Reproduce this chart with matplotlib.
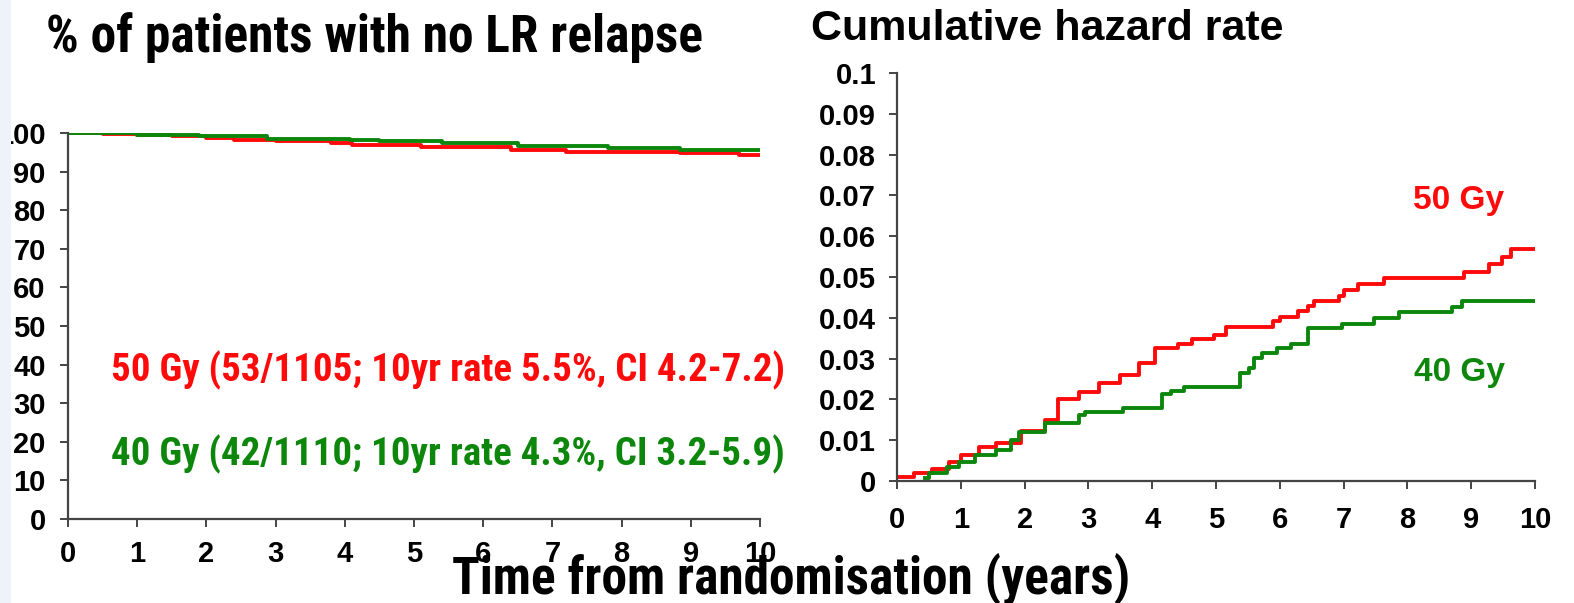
import matplotlib
matplotlib.use("Agg")
import matplotlib.pyplot as plt
from matplotlib.patches import Rectangle

W, H = 1574, 603

# % free of local-regional relapse (Kaplan-Meier, step points)
km_t_50 = [0, 0.5, 1.0, 1.5, 2.0, 2.4, 3.0, 3.8, 4.1, 5.1, 6.4, 7.2, 8.85, 9.7, 10]
km_s_50 = [100, 99.8, 99.5, 99.2, 98.8, 98.1, 97.8, 97.4, 96.9, 96.3, 95.6, 95.1, 94.7, 94.4, 94.4]
km_t_40 = [0, 1.0, 1.9, 2.87, 4.07, 4.5, 5.4, 6.5, 7.8, 8.85, 10]
km_s_40 = [100, 99.6, 99.1, 98.4, 98.2, 97.9, 97.3, 96.6, 96.0, 95.7, 95.7]

# cumulative hazard, 50 Gy arm
hz_t_50 = [0, 0.26, 0.55, 0.81, 1.01, 1.28, 1.55, 1.95, 2.32, 2.52, 2.86, 3.16, 3.5, 3.8,
           4.05, 4.4, 4.62, 4.97, 5.16, 5.9, 6.0, 6.28, 6.44, 6.53, 6.93, 7.0, 7.22, 7.63,
           8.88, 9.28, 9.49, 9.62, 10]
hz_v_50 = [0.001, 0.002, 0.003, 0.0047, 0.0064, 0.0083, 0.0094, 0.0123, 0.015, 0.020, 0.0219,
           0.024, 0.026, 0.029, 0.0325, 0.0336, 0.0348, 0.0358, 0.0378, 0.0392, 0.0403, 0.0417,
           0.0429, 0.0442, 0.0453, 0.0468, 0.0483, 0.0497, 0.0513, 0.0531, 0.0548, 0.0568, 0.0568]

# cumulative hazard, 40 Gy arm
hz_t_40 = [0.44, 0.5, 0.78, 0.97, 1.22, 1.55, 1.78, 1.92, 2.32, 2.85, 2.95, 3.55, 3.76, 4.15,
           4.3, 4.5, 5.37, 5.52, 5.6, 5.72, 5.95, 6.18, 6.44, 6.98, 7.47, 7.87, 8.7, 8.86, 10]
hz_v_40 = [0.0007, 0.0019, 0.0035, 0.0047, 0.0064, 0.0076, 0.010, 0.0121, 0.0141, 0.0162,
           0.017, 0.0178, 0.018, 0.0213, 0.022, 0.0231, 0.0264, 0.0276, 0.0301, 0.0313, 0.0325,
           0.0336, 0.0374, 0.0385, 0.0399, 0.0415, 0.0427, 0.0442, 0.0442]

years = list(range(0, 11))
km_ticks = list(range(0, 101, 10))
hz_ticks = [i / 100 for i in range(0, 11)]
hz_labels = ["0"] + ["0.%02d" % i for i in range(1, 10)] + ["0.1"]

RED = "#ff0a0a"
GREEN = "#0c870c"
SPINE = "#444444"
NARROW = ["Roboto Condensed", "PT Sans Narrow", "Liberation Sans", "DejaVu Sans"]
WIDE = ["Liberation Sans", "DejaVu Sans"]

fig = plt.figure(figsize=(W / 100, H / 100), dpi=100)


def box(x0, y0, x1, y1):
    # pixel box (top-left origin) -> figure fraction
    return [x0 / W, 1 - y1 / H, (x1 - x0) / W, (y1 - y0) / H]


def style(ax, xpad, ypad):
    for s in ["top", "right"]:
        ax.spines[s].set_visible(False)
    for s in ["left", "bottom"]:
        ax.spines[s].set_color(SPINE)
        ax.spines[s].set_linewidth(1.6)
    ax.tick_params(direction="out", length=6, width=1.4, color=SPINE)
    ax.tick_params(axis="x", pad=xpad)
    ax.tick_params(axis="y", pad=ypad)
    for lab in ax.get_xticklabels() + ax.get_yticklabels():
        lab.set_fontfamily(WIDE)
        lab.set_fontweight("bold")
        lab.set_fontsize(21)


ax1 = fig.add_axes(box(68, 133, 760, 519))
ax1.step(km_t_50, km_s_50, where="post", color=RED, lw=2.8)
ax1.step(km_t_40, km_s_40, where="post", color=GREEN, lw=2.8)
ax1.set_xlim(0, 10)
ax1.set_ylim(0, 100)
ax1.set_xticks(years)
ax1.set_yticks(km_ticks)
style(ax1, 9, 10)

ax2 = fig.add_axes(box(897, 73, 1535, 481))
ax2.step(hz_t_50, hz_v_50, where="post", color=RED, lw=2.8)
ax2.step(hz_t_40, hz_v_40, where="post", color=GREEN, lw=2.8)
ax2.set_xlim(0, 10)
ax2.set_ylim(0, 0.1)
ax2.set_xticks(years)
ax2.set_yticks(hz_ticks)
ax2.set_yticklabels(hz_labels)
style(ax2, 12, 9)


def ftext(x, y, s, **kw):
    fig.text(x / W, 1 - y / H, s, ha="center", va="baseline", fontweight="bold", **kw)


ftext(375, 52, "% of patients with no LR relapse", fontsize=37, family=NARROW)
ftext(1047, 40, "Cumulative hazard rate", fontsize=31, family=WIDE)
ftext(791, 593, "Time from randomisation (years)", fontsize=37, family=NARROW)
ftext(448, 381, "50 Gy (53/1105; 10yr rate 5.5%, CI 4.2-7.2)", fontsize=28, family=NARROW, color=RED)
ftext(448, 465, "40 Gy (42/1110; 10yr rate 4.3%, CI 3.2-5.9)", fontsize=28, family=NARROW, color=GREEN)
ftext(1459, 209, "50 Gy", fontsize=24, family=WIDE, color=RED)
ftext(1459, 381, "40 Gy", fontsize=24, family=WIDE, color=GREEN)

# pale strip along the left edge
fig.patches.append(Rectangle((0, 0), 11 / W, 1, transform=fig.transFigure,
                             facecolor="#eef3f9", edgecolor="none", zorder=10))

fig.savefig("out.png", dpi=100)
